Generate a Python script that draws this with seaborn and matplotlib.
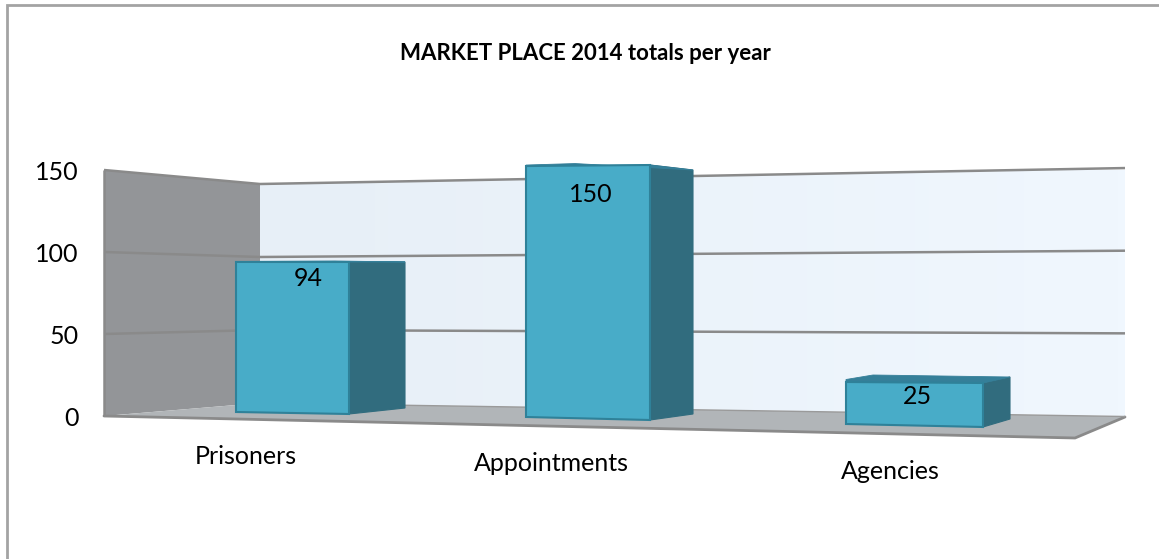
import numpy as np
import pandas as pd
import matplotlib
matplotlib.use("Agg")
import matplotlib.pyplot as plt
from matplotlib.patches import Polygon
from matplotlib.transforms import Affine2D, Transform
import seaborn as sns

categories = ["Prisoners", "Appointments", "Agencies"]
values = [94, 150, 25]
y_ticks = [0, 50, 100, 150]
title = "MARKET PLACE 2014 totals per year"

W, H = 1159, 559
sns.set_theme(style="white")
plt.rcParams["font.family"] = ["Lato", "DejaVu Sans"]
FS = 18
fig = plt.figure(figsize=(W / 100, H / 100), dpi=100, facecolor="white")
# axes covers the wall: value 0 at y=416 px and 150 at y=170 px
ax = fig.add_axes([104 / W, 1 - 416 / H, (1125 - 104) / W, (416 - 170) / H])
ax.patch.set_alpha(0)
px = Affine2D().scale(1, -1).translate(0, H)   # pixel coordinates, origin top-left

C_FRONT, C_SIDE, C_TOP, C_EDGE = "#48ACC8", "#316C7E", "#357F99", "#2F8199"
C_WALL, C_FLOOR, C_GRID = "#939598", "#B1B5B8", "#8A8A8A"

df = pd.DataFrame({"category": categories, "value": values})
sns.barplot(data=df, x="category", y="value", color=C_FRONT, saturation=1, width=0.5, ax=ax)
bars = list(ax.patches)


class BarPerspective(Transform):
    """Bilinear map from a bar's data coordinates to picture pixels."""
    input_dims = output_dims = 2

    def __init__(self, x0, w, left, right, base_l, base_r, scale_l, scale_r):
        super().__init__()
        self.p = (x0, w, left, right, base_l, base_r, scale_l, scale_r)

    def transform_non_affine(self, xy):
        x0, w, left, right, bl, br, sl, sr = self.p
        xy = np.asarray(xy, dtype=float)
        t = (xy[:, 0] - x0) / w
        return np.column_stack([left + t * (right - left),
                                bl + t * (br - bl) - xy[:, 1] * (sl + t * (sr - sl))])


# ---- walls and floor -------------------------------------------------
corner_x, right_x, left_x = 260, 1125, 104
def back_y(v, x):
    t = (x - corner_x) / (right_x - corner_x)
    return (403 - 1.46 * v) * (1 - t) + (416 - 1.653 * v) * t
def side_y(v, x):
    t = (x - left_x) / (corner_x - left_x)
    return (416 - 1.64 * v) * (1 - t) + (403 - 1.46 * v) * t

grad = np.linspace(0, 1, 64)[None, :, None]
grad = np.array([231, 239, 247])[None, None, :] * (1 - grad) + np.array([240, 247, 254])[None, None, :] * grad
im = ax.imshow(grad.astype(np.uint8), extent=(corner_x, right_x, 416, 168), transform=px,
               aspect="auto", zorder=1, interpolation="bilinear")
clip = Polygon([(corner_x, back_y(150, corner_x)), (right_x, back_y(150, right_x)),
                (right_x, back_y(0, right_x)), (corner_x, back_y(0, corner_x))], transform=px)
im.set_clip_path(clip)

ax.add_patch(Polygon([(left_x, side_y(150, left_x)), (corner_x, side_y(150, corner_x)),
                      (corner_x, side_y(0, corner_x)), (left_x, side_y(0, left_x))],
                     transform=px, fc=C_WALL, ec="none", zorder=1.1, clip_on=False))
ax.add_patch(Polygon([(left_x, 416), (corner_x, 403), (right_x, 416.5), (1075, 437.5)],
                     transform=px, fc=C_FLOOR, ec="none", zorder=1.2, clip_on=False))

grid_kw = dict(transform=px, color=C_GRID, lw=1.8, zorder=1.5, clip_on=False, solid_capstyle="butt")
for v in y_ticks[1:]:
    ax.plot([left_x, corner_x, right_x],
            [side_y(v, left_x), side_y(v, corner_x), back_y(v, right_x)], **grid_kw)
ax.plot([left_x, left_x], [side_y(150, left_x), side_y(0, left_x)], **grid_kw)
ax.plot([left_x, 1075, right_x], [416, 438, 417], transform=px, color=C_GRID, lw=2.0,
        zorder=1.5, clip_on=False, solid_joinstyle="miter")
ax.plot([corner_x, right_x], [403, 416.5], transform=px, color="#9A9A9A", lw=1.0, zorder=1.5, clip_on=False)

# frame of the chart area, running off the right and bottom of the picture
ax.plot([7, 7, W], [H, 5, 5], transform=px, color="#A3A3A3", lw=2.0, zorder=1, clip_on=False,
        solid_joinstyle="miter")

# ---- bars: front face is seaborn's rectangle under a per-bar perspective map ------
face_left = [236, 526, 846]
face_right = [349, 650, 983]
base_left = [412, 417, 424]
base_right = [414, 420, 427]
unit_left = [1.596, 1.673, 1.68]
unit_right = [1.617, 1.70, 1.76]
depth_dx = [56, 43, 27]
depth_base_dy = [-6, -6, -8]
depth_top_dy = [0, 5, -6]
back_left_x = [335, 575, 873]
back_left_dy = [-1, -2.5, -7]
corner_rise = [0.5, 1, 2.5]
label_xy = [(308, 279), (591, 195), (917, 396)]

for i, bar in enumerate(bars):
    x0, w, v = bar.get_x(), bar.get_width(), bar.get_height()
    m = BarPerspective(x0, w, face_left[i], face_right[i], base_left[i], base_right[i],
                       unit_left[i], unit_right[i])
    bar.set_transform(m + px)
    bar.set_clip_on(False)
    bar.set_zorder(3)
    bar.set_edgecolor(C_EDGE)
    bar.set_linewidth(1.5)
    corners = m.transform_non_affine(np.array([[x0, v], [x0 + w, v], [x0 + w, 0.0]]))
    (tlx, tly), (trx, try_), (_, bry) = corners
    dx = depth_dx[i]
    ax.add_patch(Polygon([(trx, try_), (trx + dx, try_ + depth_top_dy[i]),
                          (trx + dx, bry + depth_base_dy[i]), (trx, bry)],
                         transform=px, fc=C_SIDE, ec=C_SIDE, lw=0.8, zorder=2.9, clip_on=False))
    ax.add_patch(Polygon([(tlx, tly), (tlx, tly - corner_rise[i]), (back_left_x[i], tly + back_left_dy[i]),
                          (trx + dx, try_ + depth_top_dy[i]), (trx, try_)],
                         transform=px, fc=C_TOP, ec=C_TOP, lw=0.6, zorder=2.95, clip_on=False))
    ax.text(*label_xy[i], str(values[i]), transform=px, ha="center", va="center",
            fontsize=FS, color="black", zorder=5)

# ---- axes text ---------------------------------------------------------
ax.set_xlim(-0.5, 2.5)
ax.set_ylim(0, 150)
ax.set_yticks(y_ticks)
ax.set_xticks(range(len(categories)))
ax.set_xticklabels(categories)
ax.set_xlabel("")
ax.set_ylabel("")
ax.tick_params(axis="y", length=0, pad=18.5, labelsize=FS, labelcolor="black")
ax.tick_params(axis="x", length=0, pad=22, labelsize=FS, labelcolor="black")
for s_ in ax.spines.values():
    s_.set_visible(False)
ax.grid(False)
label_shift = [(-28, 2), (-63, -5), (-64, -13)]
for lab, (dx, dy) in zip(ax.get_xticklabels(), label_shift):
    lab.set_transform(lab.get_transform() + Affine2D().translate(dx, dy))
fig.text(585 / W, 1 - 53 / H, title, ha="center", va="center", fontsize=16,
         fontweight="bold", color="black")

fig.savefig("out.png", dpi=100, facecolor="white")
